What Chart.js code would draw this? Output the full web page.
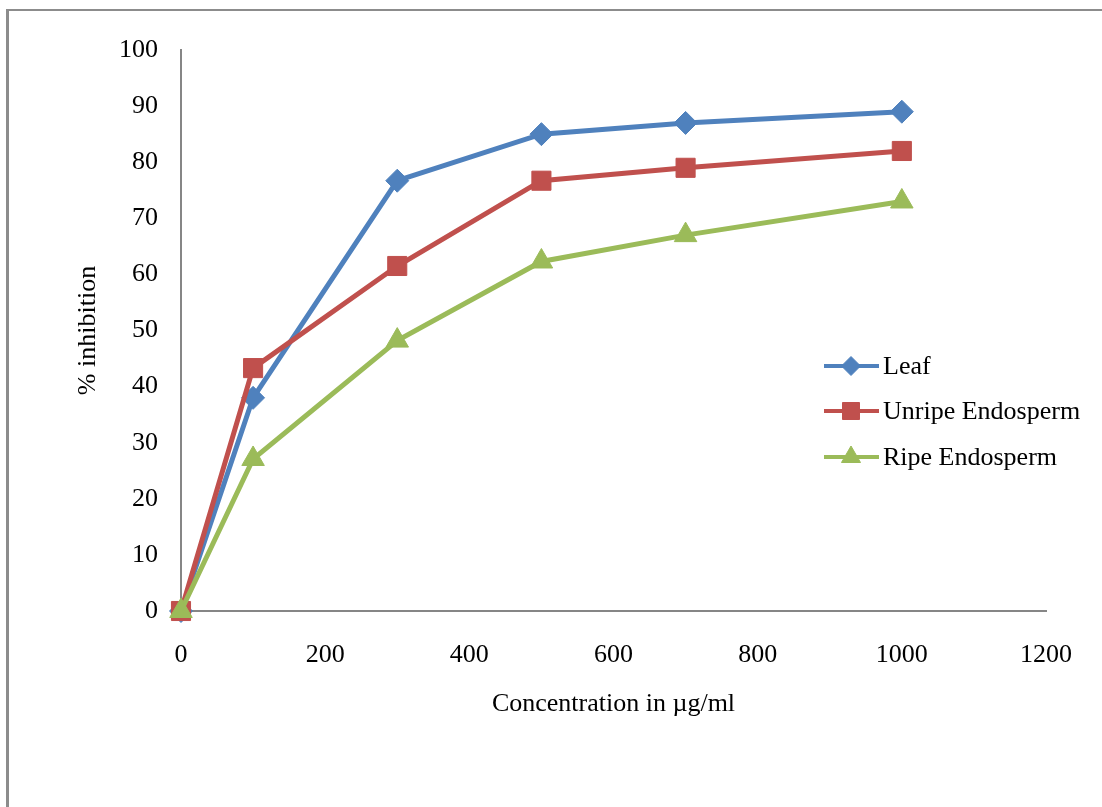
<!DOCTYPE html>
<html>
<head>
<meta charset="utf-8">
<script src="https://cdn.jsdelivr.net/npm/chart.js@4/dist/chart.umd.min.js"></script>
<style>
    html, body { margin: 0; padding: 0; background: #fff; overflow: hidden; }
    #wrap { position: relative; width: 1102px; height: 807px; }
    #frame {
        position: absolute; left: 6px; top: 9px; width: 1200px; height: 900px;
        border-left: 3px solid #8c8c8c; border-top: 2px solid #8c8c8c;
    }
    #chart { position: absolute; left: 0; top: 0; }
</style>
</head>
<body>
<div id="wrap">
    <div id="frame"></div>
    <canvas id="chart" width="1102" height="807"></canvas>
</div>
<script>
var concentrations = [0, 100, 300, 500, 700, 1000];
var leaf = [0, 38, 76.7, 85, 87, 89];
var unripe = [0, 43.3, 61.5, 76.7, 79, 82];
var ripe = [0, 27.1, 48.2, 62.3, 67, 73];
var seriesNames = ["Leaf", "Unripe Endosperm", "Ripe Endosperm"];

var fontFamily = "'Liberation Serif', 'Times New Roman', serif";
var axisColor = "#868686";

function points(values) {
    return concentrations.map(function (c, i) {
        return {x: c, y: values[i]};
    });
}

function series(label, values, color, style, radius, legendRadius, order) {
    return {
        label: label,
        data: points(values),
        borderColor: color,
        backgroundColor: color,
        borderWidth: 5,
        pointStyle: style,
        pointRadius: radius,
        pointBorderWidth: 1,
        legendRadius: legendRadius,
        tension: 0,
        clip: false,
        order: order
    };
}

// legend drawn inside the plot, like the original
var insideLegend = {
    id: "insideLegend",
    afterDraw: function (chart) {
        var ctx = chart.ctx;
        var rows = [366, 411, 457];
        ctx.save();
        chart.data.datasets.forEach(function (ds, i) {
            var y = rows[i];
            ctx.strokeStyle = ds.borderColor;
            ctx.fillStyle = ds.backgroundColor;
            ctx.lineWidth = 4;
            ctx.beginPath();
            ctx.moveTo(824, y);
            ctx.lineTo(879, y);
            ctx.stroke();
            ctx.lineWidth = 1;
            Chart.helpers.drawPoint(ctx, {
                pointStyle: ds.pointStyle,
                radius: ds.legendRadius,
                rotation: 0,
                borderWidth: 1
            }, 851, y);
            ctx.fillStyle = "#000";
            ctx.font = "26px " + fontFamily;
            ctx.textBaseline = "middle";
            ctx.textAlign = "left";
            ctx.fillText(ds.label, 883, y + 1);
        });
        ctx.restore();
    }
};

var ctx = document.getElementById("chart").getContext("2d");
new Chart(ctx, {
    type: "line",
    data: {
        datasets: [
            series(seriesNames[0], leaf, "#4F81BD", "rectRot", 11.5, 9.5, 3),
            series(seriesNames[1], unripe, "#C0504D", "rect", 13.5, 12, 2),
            series(seriesNames[2], ripe, "#9BBB59", "triangle", 13, 11, 1)
        ]
    },
    options: {
        responsive: false,
        animation: false,
        layout: {padding: {top: 50, right: 56, bottom: 0, left: 0}},
        plugins: {
            legend: {display: false},
            tooltip: {enabled: false}
        },
        scales: {
            x: {
                type: "linear",
                min: 0,
                max: 1200,
                ticks: {
                    stepSize: 200,
                    padding: 21,
                    color: "#000",
                    font: {family: fontFamily, size: 26},
                    callback: function (v) { return String(v); }
                },
                grid: {display: false},
                border: {color: axisColor, width: 2},
                title: {
                    display: true,
                    text: "Concentration in µg/ml",
                    color: "#000",
                    font: {family: fontFamily, size: 26},
                    padding: {top: 0, bottom: 87}
                },
                afterFit: function (scale) { scale.height = 196; }
            },
            y: {
                min: 0,
                max: 100,
                ticks: {
                    stepSize: 10,
                    padding: 15,
                    color: "#000",
                    font: {family: fontFamily, size: 26},
                    callback: function (v) { return String(v); }
                },
                grid: {display: false},
                border: {color: axisColor, width: 2},
                title: {
                    display: true,
                    text: "% inhibition",
                    color: "#000",
                    font: {family: fontFamily, size: 26},
                    padding: {top: 73, bottom: 0}
                },
                afterFit: function (scale) { scale.width = 181; }
            }
        }
    },
    plugins: [insideLegend]
});
</script>
</body>
</html>
